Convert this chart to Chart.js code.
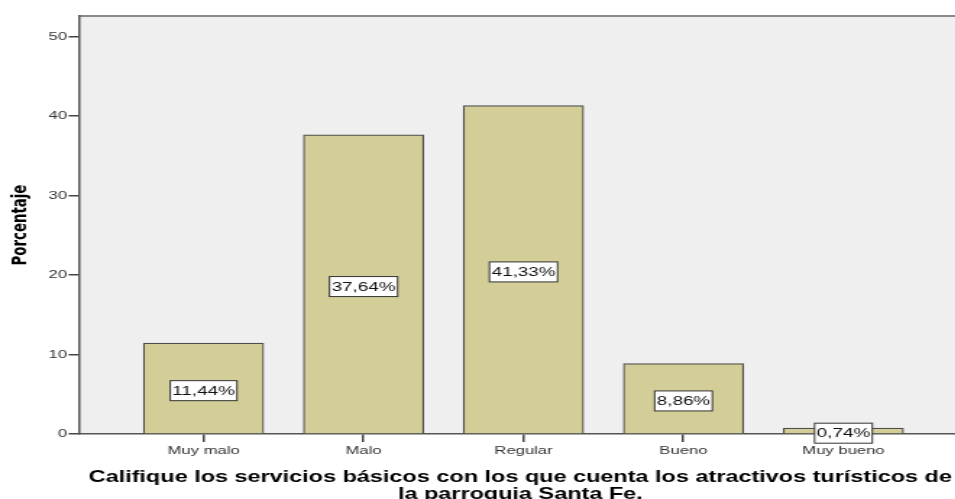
<!DOCTYPE html>
<html><head><meta charset="utf-8">
<script src="https://cdn.jsdelivr.net/npm/chart.js@4"></script>
<style>
html,body{margin:0;padding:0;background:#fff;overflow:hidden;width:955px;height:499px}
canvas{display:block}
</style>
</head><body>
<canvas id="c" width="664" height="499" style="width:961px;height:499px"></canvas>
<script>
const categories = ['Muy malo', 'Malo', 'Regular', 'Bueno', 'Muy bueno'];
const percentages = [11.44, 37.64, 41.33, 8.86, 0.74];
const yTicks = [0, 10, 20, 30, 40, 50];
const yAxisTitle = 'Porcentaje';
const xAxisTitle = ['Califique los servicios básicos con los que cuenta los atractivos turísticos de', 'la parroquia Santa Fe.'];

const FONT = '"Liberation Sans", Arial, Helvetica, sans-serif';

const plotFrame = {
  id: 'plotFrame',
  beforeDraw(chart) {
    const {ctx, chartArea: a} = chart;
    ctx.save();
    ctx.fillStyle = '#efefef';
    ctx.fillRect(a.left, a.top, a.right - a.left, a.bottom - a.top);
    ctx.strokeStyle = '#8a8a8a';
    ctx.lineWidth = 2;
    ctx.beginPath();
    ctx.moveTo(a.left, a.top);
    ctx.lineTo(chart.width, a.top);
    ctx.stroke();
    ctx.restore();
  }
};

const boxLabels = {
  id: 'boxLabels',
  afterDatasetsDraw(chart) {
    const ctx = chart.ctx;
    const meta = chart.getDatasetMeta(0);
    ctx.save();
    ctx.font = '13px ' + FONT;
    ctx.textAlign = 'center';
    ctx.textBaseline = 'middle';
    meta.data.forEach((el, i) => {
      const txt = percentages[i].toFixed(2).replace('.', ',') + '%';
      const w = ctx.measureText(txt).width + 3;
      const h = 20;
      const cx = el.x;
      const cy = (el.y + el.base) / 2 + 2.5;
      ctx.fillStyle = '#ffffff';
      ctx.fillRect(cx - w / 2, cy - h / 2, w, h);
      ctx.strokeStyle = '#333333';
      ctx.lineWidth = 1;
      ctx.strokeRect(cx - w / 2, cy - h / 2, w, h);
      ctx.fillStyle = '#111111';
      ctx.fillText(txt, cx, cy + 0.5);
    });
    ctx.restore();
  }
};

new Chart(document.getElementById('c'), {
  type: 'bar',
  data: {
    datasets: [{
      data: categories.map((c, i) => ({x: i, y: percentages[i]})),
      backgroundColor: '#d3ce97',
      borderColor: '#4d4d4d',
      borderWidth: 1.2,
      barThickness: 83
    }]
  },
  options: {
    responsive: false,
    animation: false,
    layout: {padding: {top: 16, left: 0, right: 0, bottom: 0}},
    plugins: {legend: {display: false}, tooltip: {enabled: false}},
    scales: {
      x: {
        type: 'linear',
        min: -0.775,
        max: 4.735,
        offset: false,
        afterBuildTicks: s => { s.ticks = categories.map((c, i) => ({value: i})); },
        afterFit: s => { s.height = 65; },
        ticks: {
          callback: v => categories[v],
          font: {family: FONT, size: 11.5},
          color: '#333',
          padding: 2,
          autoSkip: false,
          maxRotation: 0
        },
        grid: {display: true, offset: false, drawOnChartArea: false, drawTicks: true, tickLength: 8, color: '#444', lineWidth: 1.5},
        border: {display: true, color: '#555', width: 1.5},
        title: {
          display: true,
          text: xAxisTitle,
          font: {family: FONT, size: 16.2, weight: 'bold', lineHeight: '17px'},
          color: '#000',
          padding: {top: 0, bottom: -4.5}
        }
      },
      y: {
        min: 0,
        max: 52.6,
        afterBuildTicks: s => { s.ticks = yTicks.map(v => ({value: v})); },
        afterFit: s => { s.width = 55; },
        ticks: {font: {family: FONT, size: 11.5}, color: '#333', padding: 1},
        grid: {display: true, drawOnChartArea: false, tickLength: 7.6, color: '#444', lineWidth: 1.5},
        border: {display: true, color: '#555', width: 1.5},
        title: {
          display: true,
          text: yAxisTitle,
          font: {family: '"Liberation Sans Narrow", "DejaVu Sans Condensed", ' + FONT, size: 14.8, weight: 'bold'},
          color: '#000',
          padding: {top: 5, bottom: 0}
        }
      }
    }
  },
  plugins: [plotFrame, boxLabels]
});
</script>
</body></html>
